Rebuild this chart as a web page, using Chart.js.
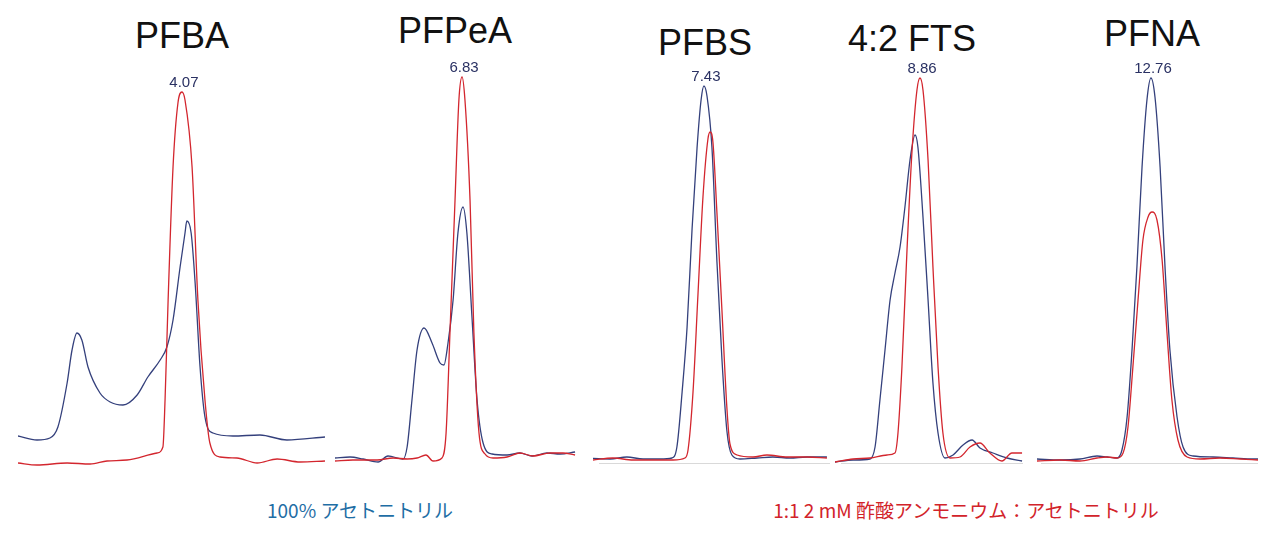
<!DOCTYPE html>
<html>
<head>
<meta charset="utf-8">
<script src="https://cdn.jsdelivr.net/npm/chart.js@4"></script>
<style>
  body { margin: 0; background: #fff; width: 1280px; height: 548px; position: relative; overflow: hidden; font-family: "Liberation Sans", Arial, sans-serif; }
  canvas { position: absolute; top: 43px; }
  .title { position: absolute; font-size: 36px; line-height: 36px; color: #111; transform: translate(-50%, -50%); white-space: nowrap; }
  .note { position: absolute; top: 509px; font-family: "Noto Sans CJK JP", sans-serif; font-size: 19px; line-height: 19px; transform: translate(-50%, -50%); white-space: nowrap; }
</style>
</head>
<body>
<div class="note" style="left:360px;color:#1f6ea5">100% アセトニトリル</div>
<div class="note" style="left:966px;color:#d2232a">1:1 2 mM 酢酸アンモニウム：アセトニトリル</div>

<script>
// compounds and their labelled retention times (min)
const compounds = ["PFBA", "PFPeA", "PFBS", "4:2 FTS", "PFNA"];
const peakTimes = ["4.07", "6.83", "7.43", "8.86", "12.76"];

// traces: [x (relative window 0-100), signal (% of full scale)]
// blue = 100% acetonitrile, red = 1:1 2 mM ammonium acetate : acetonitrile
const pfbaBlue = [[0,6.75],[6.2,5.75],[10.4,6.25],[13,9],[16,20],[17.6,28.25],[19.2,32.5],[20.8,30.75],[22.8,24],[26.7,17.5],[30,15.25],[34.2,14.5],[38.8,17],[42.3,21.5],[46.3,25.75],[48.5,29],[50.5,35.75],[52.8,49],[54.4,57.5],[55,60.5],[56.4,57.5],[57.7,45],[59.3,24],[60.9,11.5],[63.5,7.5],[70,6.75],[78.8,7],[87.6,5.75],[100,6.5]];
const pfbaRed = [[0,0],[6.2,-0.5],[16,0],[23.5,-0.25],[29,0.5],[35.5,0.75],[45.3,2.5],[47.2,4],[47.9,15.75],[48.9,40.75],[50.5,74],[52.1,90],[53.4,92.75],[54.4,90.75],[56.7,74],[58.6,40.75],[60.9,15.75],[62.5,5],[65.8,1.5],[71.3,1.25],[77.9,0],[84.4,1],[91.9,0.25],[100,0.5]];

const pfpeaBlue = [[0,1.25],[6.2,1.5],[11.6,1],[17.8,0.25],[21.9,1.75],[28.1,1],[29.8,4],[31.8,15.75],[33.9,28.25],[36.8,33.75],[40.1,30],[43.4,25],[45,24.5],[46.7,30],[48.8,40.75],[50.8,57.5],[52.9,64],[54.5,57.5],[56.6,36.5],[58.7,15.75],[61.2,5],[64.9,2.25],[71.1,2],[76.4,2.5],[81.4,1.75],[87.6,2.5],[93,2.25],[99.2,2.75]];
const pfpeaRed = [[0,0.5],[7.4,0.75],[17.4,0.75],[24,1.25],[29.8,1],[33.9,1.25],[37.6,2],[40.5,0.5],[44.2,1.25],[45.9,7.5],[47.5,32.5],[49.6,65.75],[51.2,90.75],[52.5,96.5],[53.7,90.75],[55.8,65.75],[57.4,32.5],[59.5,7.5],[62,2.25],[65.3,1.25],[71.1,1.5],[76.4,2.5],[81.8,1.75],[88.8,2.5],[94.2,2.5],[99.2,2]];

const pfbsBlue = [[0,1.15],[7.2,1],[14.3,1.5],[21.1,1],[28.3,1],[33.3,1.25],[35.4,4],[37.6,17.75],[39.7,34],[41.8,58.5],[43.9,78.75],[45.6,90.75],[46.8,94.25],[48.1,91.75],[50.2,78.75],[52.3,50.25],[54.4,26],[56.5,8],[58.6,2],[62,1],[69.2,1.25],[75.9,1.5],[83.1,1.25],[90.3,1.5],[98.7,1.5]];
const pfbsRed = [[0,0.75],[8.4,1.25],[16.9,0.75],[25.3,0.75],[33.8,0.75],[38.8,1.25],[40.1,3.25],[42.2,17.75],[44.3,42.25],[46.4,66.5],[48.5,81],[49.4,82.75],[50.6,80.25],[52.3,62.5],[54.4,38.25],[56.5,13.75],[57.8,4.75],[60.8,2],[67.5,1.5],[73.4,2],[81.9,1.5],[90.3,1.5],[98.7,1.25]];

const ftsBlue = [[0,0.25],[9.6,0.75],[18.6,1],[21.3,4],[23.9,15.75],[26.6,28.25],[29.3,40.75],[31.9,47.5],[34.6,54],[37.2,64],[39.9,75.75],[42.6,82],[44.1,79],[46.8,61.5],[49.5,40.75],[52.1,20],[54.8,7.5],[58.5,1.25],[62.8,2],[68.1,4.5],[72.9,5.75],[77.1,3.75],[84,2.5],[91.5,1.25],[99.5,0.5]];
const ftsRed = [[0,0.25],[9.6,1],[18.6,1.25],[27.7,2],[31.9,2.5],[33.5,7.5],[35.6,24],[38.3,53.25],[41,78.25],[43.6,93.25],[45.2,96.25],[46.8,93.25],[49.5,75.75],[52.1,49],[54.8,24],[57.4,7.5],[61.2,1.25],[66.5,1.5],[71.8,4],[77.1,5],[82.4,2.5],[88.8,0.5],[94.1,2.5],[99.5,2.5]];

const pfnaBlue = [[0.9,1],[11.2,0.75],[20.2,1],[27.8,1.75],[32.3,1.5],[36.8,1.25],[39,3.25],[41.3,11.5],[43.5,28.25],[45.7,49],[48,74],[50.2,90.75],[52,96.25],[53.8,91.5],[56.1,74],[58.3,49],[60.5,28.25],[63.7,11.5],[66.4,4],[70.9,1.75],[79.8,1.5],[88.8,1.25],[97.8,1],[100,1]];
const pfnaRed = [[0.9,0.5],[11.2,0.75],[20.2,0.5],[27.8,1.25],[32.3,1.5],[36.8,1.25],[39.5,2.5],[41.7,9],[43.9,24],[46.2,40.75],[48.4,55.75],[50.7,61.5],[52.5,62.75],[54.7,60.75],[57,50.75],[59.2,32.5],[61.4,15.75],[64.1,5.75],[68.2,1.5],[74,1],[83,1.25],[91.9,1],[100,0.75]];

const blueTraces = [pfbaBlue, pfpeaBlue, pfbsBlue, ftsBlue, pfnaBlue];
const redTraces = [pfbaRed, pfpeaRed, pfbsRed, ftsRed, pfnaRed];

// page layout of the five panels
const layout = [
  { left: 18,   width: 307, titleX: 182,  titleY: 36, axis: false },
  { left: 335,  width: 242, titleX: 455,  titleY: 31, axis: false },
  { left: 593,  width: 237, titleX: 705,  titleY: 43, axis: true },
  { left: 835,  width: 188, titleX: 912,  titleY: 39, axis: true },
  { left: 1035, width: 223, titleX: 1152, titleY: 34, axis: true }
];

const BLUE = "#34407c";
const RED = "#d3262e";

// writes the retention time above the tallest peak
const peakLabel = {
  id: "peakLabel",
  afterDatasetsDraw(chart, args, opts) {
    let best = null;
    chart.data.datasets.forEach(ds => ds.data.forEach(p => {
      if (!best || p.y > best.y) best = p;
    }));
    const ctx = chart.ctx;
    const px = chart.scales.x.getPixelForValue(best.x);
    const py = chart.scales.y.getPixelForValue(best.y);
    ctx.save();
    ctx.font = "15px 'Liberation Sans', Arial, sans-serif";
    ctx.fillStyle = "#2a3163";
    ctx.textAlign = "center";
    ctx.textBaseline = "middle";
    ctx.fillText(opts.text, px + 2, py - 9);
    ctx.restore();
  }
};

// thin grey time axis at zero signal
const baseline = {
  id: "baseline",
  beforeDatasetsDraw(chart, args, opts) {
    if (!opts.show) return;
    const ctx = chart.ctx;
    const y = Math.round(chart.scales.y.getPixelForValue(0)) + 0.5;
    ctx.save();
    ctx.strokeStyle = "#d9d9d9";
    ctx.lineWidth = 1;
    ctx.beginPath();
    ctx.moveTo(chart.chartArea.left + 6, y);
    ctx.lineTo(chart.chartArea.right, y);
    ctx.stroke();
    ctx.restore();
  }
};

const toPoints = arr => arr.map(p => ({ x: p[0], y: p[1] }));

compounds.forEach((name, i) => {
  const box = layout[i];

  const title = document.createElement("div");
  title.className = "title";
  title.style.left = box.titleX + "px";
  title.style.top = box.titleY + "px";
  title.textContent = name;
  document.body.appendChild(title);

  const canvas = document.createElement("canvas");
  canvas.width = box.width;
  canvas.height = 432;
  canvas.style.left = box.left + "px";
  document.body.appendChild(canvas);

  new Chart(canvas, {
    type: "line",
    data: {
      datasets: [
        { data: toPoints(redTraces[i]), borderColor: RED, borderWidth: 1.3, pointRadius: 0, cubicInterpolationMode: "monotone" },
        { data: toPoints(blueTraces[i]), borderColor: BLUE, borderWidth: 1.3, pointRadius: 0, cubicInterpolationMode: "monotone" }
      ]
    },
    options: {
      responsive: false,
      animation: false,
      layout: { padding: 0 },
      plugins: {
        legend: { display: false },
        tooltip: { enabled: false },
        peakLabel: { text: peakTimes[i] },
        baseline: { show: box.axis }
      },
      scales: {
        x: { type: "linear", min: 0, max: 100, display: false },
        y: { min: -3, max: 105, display: false }
      }
    },
    plugins: [peakLabel, baseline]
  });
});
</script>
</body>
</html>
